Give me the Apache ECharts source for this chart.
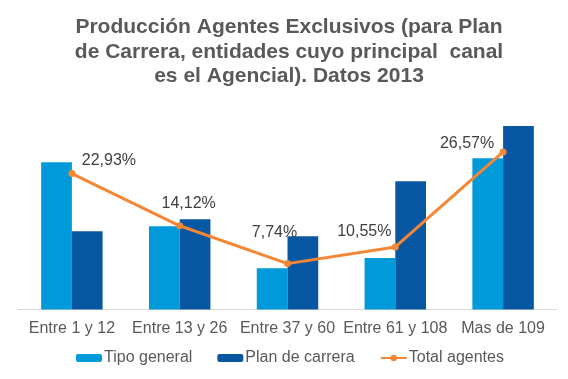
<!DOCTYPE html>
<html>
<head>
<meta charset="utf-8">
<script src="https://cdn.jsdelivr.net/npm/echarts@6/dist/echarts.min.js"></script>
<style>html,body{margin:0;padding:0;background:#fff;}#c{width:568px;height:379px;}</style>
</head>
<body>
<div id="c"></div>
<script>
const categories = ['Entre 1 y 12', 'Entre 13 y 26', 'Entre 37 y 60', 'Entre 61 y 108', 'Mas de 109'];
const tipoGeneral = [24.84, 14.05, 6.96, 8.70, 25.51];
const planCarrera = [13.20, 15.23, 12.36, 21.64, 30.96];
const totalAgentes = [22.93, 14.12, 7.74, 10.55, 26.57];
const titleText = 'Producción Agentes Exclusivos (para Plan\nde Carrera, entidades cuyo principal  canal\nes el Agencial). Datos 2013';
const labelOffsets = [[37, -13], [9, -22], [-13, -31], [-31, -15], [-36, -8]];

const font = 'Liberation Sans, Arial, sans-serif';
const chart = echarts.init(document.getElementById('c'), null, {renderer: 'canvas'});
chart.setOption({
  animation: false,
  graphic: [{
    type: 'text', x: 289, y: 15,
    style: {
      text: titleText, fill: '#595959', textAlign: 'center', textVerticalAlign: 'top',
      font: 'bold 21px ' + font, lineHeight: 24.5
    }
  }],
  grid: {left: 18, right: 11, top: 102, bottom: 69.5, containLabel: false},
  legend: {
    left: 76, top: 350, padding: 0, itemWidth: 26, itemHeight: 8, itemGap: 25,
    textStyle: {fontFamily: font, fontSize: 16, color: '#595959', padding: [0, 0, 0, -3]},
    data: ['Tipo general', 'Plan de carrera', 'Total agentes']
  },
  xAxis: {
    type: 'category', data: categories,
    axisLine: {lineStyle: {color: '#D9D9D9', width: 1}},
    axisTick: {show: false},
    axisLabel: {fontFamily: font, fontSize: 16, color: '#595959', margin: 11, interval: 0}
  },
  yAxis: {type: 'value', min: 0, max: 35, show: false, splitLine: {show: false}},
  series: [
    {name: 'Tipo general', type: 'bar', data: tipoGeneral, barGap: '0%', barCategoryGap: '43%',
     itemStyle: {color: '#009ADA'}},
    {name: 'Plan de carrera', type: 'bar', data: planCarrera, barGap: '0%', barCategoryGap: '43%',
     itemStyle: {color: '#0857A3'}},
    {name: 'Total agentes', type: 'line', symbol: 'circle', symbolSize: 7,
     lineStyle: {color: '#F58634', width: 3}, itemStyle: {color: '#F58634'},
     data: totalAgentes.map((v, i) => ({
       value: v,
       label: {show: true, position: 'inside', offset: labelOffsets[i]}
     })),
     label: {
       show: true, fontFamily: font, fontSize: 16, color: '#404040',
       formatter: p => p.value.toFixed(2).replace('.', ',') + '%'
     }
    }
  ]
});
</script>
</body>
</html>
